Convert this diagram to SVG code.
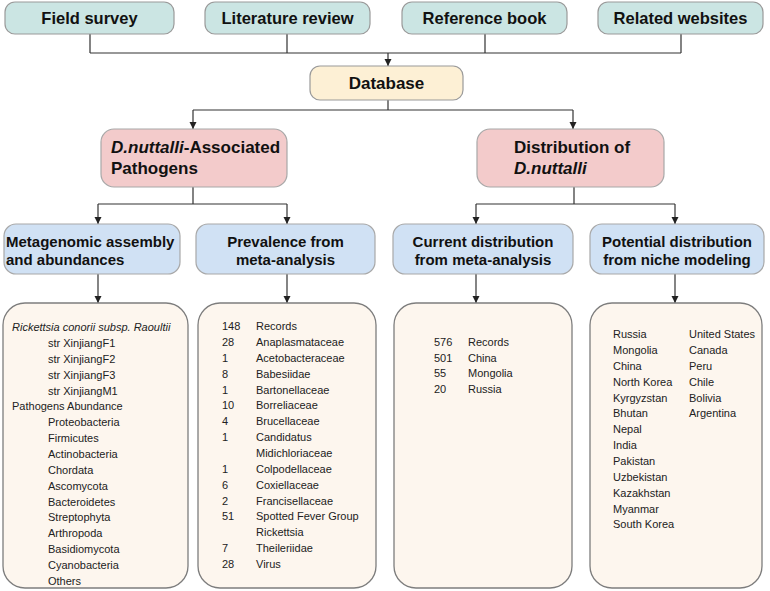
<svg xmlns="http://www.w3.org/2000/svg" width="770" height="591" viewBox="0 0 770 591">
<defs>
<marker id="arr" viewBox="0 0 10 10" refX="10" refY="5" markerWidth="7" markerHeight="8" markerUnits="userSpaceOnUse" orient="auto">
<path d="M0,0 L10,5 L0,10 Z" fill="#222"/>
</marker>
</defs>
<style>
.src{fill:#cbe5e3;stroke:#9a9a9a;stroke-width:1.2}
.db{fill:#fdf0d5;stroke:#9a9a9a;stroke-width:1.2}
.pk{fill:#f3cbcb;stroke:#a8a8a8;stroke-width:1.2}
.bl{fill:#d0e1f4;stroke:#a8a8a8;stroke-width:1.2}
.bx{fill:#fdf6ee;stroke:#7d7d7d;stroke-width:1.3}
.h{font-family:"Liberation Sans",Arial,sans-serif;font-weight:bold;fill:#111}
.t{font-family:"Liberation Sans",Arial,sans-serif;font-size:11px;fill:#222}
.ln{fill:none;stroke:#333;stroke-width:1.2}
</style>
<g id="connectors">
<path class="ln" d="M90,34 V53 M287,34 V53 M485,34 V53 M681,34 V53 M90,53 H681"/>
<path class="ln" d="M388,53 V66" marker-end="url(#arr)"/>
<path class="ln" d="M388,100 V110 M193,110 H573"/>
<path class="ln" d="M193,110 V129" marker-end="url(#arr)"/>
<path class="ln" d="M573,110 V129" marker-end="url(#arr)"/>
<path class="ln" d="M193,187 V204 M98,204 H287"/>
<path class="ln" d="M98,204 V224" marker-end="url(#arr)"/>
<path class="ln" d="M287,204 V224" marker-end="url(#arr)"/>
<path class="ln" d="M574,187 V204 M476,204 H675"/>
<path class="ln" d="M476,204 V224" marker-end="url(#arr)"/>
<path class="ln" d="M675,204 V224" marker-end="url(#arr)"/>
<path class="ln" d="M98,274 V303" marker-end="url(#arr)"/>
<path class="ln" d="M287,274 V303" marker-end="url(#arr)"/>
<path class="ln" d="M476,274 V303" marker-end="url(#arr)"/>
<path class="ln" d="M675,274 V303" marker-end="url(#arr)"/>
</g>
<g id="field-survey">
<rect class="src" x="5" y="2" width="169" height="32" rx="10"/>
<text class="h" x="89.5" y="24" font-size="16.5" text-anchor="middle">Field survey</text>
</g>
<g id="literature-review">
<rect class="src" x="205" y="2" width="165" height="32" rx="10"/>
<text class="h" x="287.5" y="24" font-size="16.5" text-anchor="middle">Literature review</text>
</g>
<g id="reference-book">
<rect class="src" x="402" y="2" width="165" height="32" rx="10"/>
<text class="h" x="484.5" y="24" font-size="16.5" text-anchor="middle">Reference book</text>
</g>
<g id="related-websites">
<rect class="src" x="598" y="2" width="165" height="32" rx="10"/>
<text class="h" x="680.5" y="24" font-size="16.5" text-anchor="middle">Related websites</text>
</g>
<g id="database">
<rect class="db" x="310" y="66" width="153" height="34" rx="10"/>
<text class="h" x="386.5" y="89" font-size="17" text-anchor="middle">Database</text>
</g>
<g id="pathogens">
<rect class="pk" x="101" y="129" width="186" height="58" rx="13"/>
<text class="h" x="111" y="153" font-size="17"><tspan font-style="italic">D.nuttalli</tspan>-Associated</text>
<text class="h" x="111" y="174" font-size="17">Pathogens</text>
</g>
<g id="distribution">
<rect class="pk" x="477" y="129" width="187" height="58" rx="13"/>
<text class="h" x="514" y="153" font-size="17">Distribution of</text>
<text class="h" x="514" y="174" font-size="17" font-style="italic">D.nuttalli</text>
</g>
<g id="metagenomic">
<rect class="bl" x="4" y="224" width="176" height="50" rx="12"/>
<text class="h" x="6" y="247" font-size="15">Metagenomic assembly</text>
<text class="h" x="6" y="265" font-size="15">and abundances</text>
</g>
<g id="prevalence">
<rect class="bl" x="196" y="224" width="179" height="50" rx="12"/>
<text class="h" x="285.5" y="247" font-size="15" text-anchor="middle">Prevalence from</text>
<text class="h" x="285.5" y="265" font-size="15" text-anchor="middle">meta-analysis</text>
</g>
<g id="current">
<rect class="bl" x="393" y="224" width="180" height="50" rx="12"/>
<text class="h" x="483" y="247" font-size="15" text-anchor="middle">Current distribution</text>
<text class="h" x="483" y="265" font-size="15" text-anchor="middle">from meta-analysis</text>
</g>
<g id="potential">
<rect class="bl" x="590" y="224" width="174" height="50" rx="12"/>
<text class="h" x="677" y="247" font-size="15" text-anchor="middle">Potential distribution</text>
<text class="h" x="677" y="265" font-size="15" text-anchor="middle">from niche modeling</text>
</g>
<g id="metagenomic-list">
<rect class="bx" x="3" y="303" width="185" height="285" rx="22"/>
<text class="t" x="12" y="331" font-style="italic">Rickettsia conorii subsp. Raoultii</text>
<text class="t"><tspan x="48" y="346.9">str XinjiangF1</tspan><tspan x="48" y="362.7">str XinjiangF2</tspan><tspan x="48" y="378.6">str XinjiangF3</tspan><tspan x="48" y="394.5">str XinjiangM1</tspan><tspan x="12" y="410.4">Pathogens Abundance</tspan><tspan x="48" y="426.2">Proteobacteria</tspan><tspan x="48" y="442.1">Firmicutes</tspan><tspan x="48" y="458">Actinobacteria</tspan><tspan x="48" y="473.8">Chordata</tspan><tspan x="48" y="489.7">Ascomycota</tspan><tspan x="48" y="505.6">Bacteroidetes</tspan><tspan x="48" y="521.4">Streptophyta</tspan><tspan x="48" y="537.3">Arthropoda</tspan><tspan x="48" y="553.2">Basidiomycota</tspan><tspan x="48" y="569">Cyanobacteria</tspan><tspan x="48" y="584.9">Others</tspan></text>
</g>
<g id="prevalence-list">
<rect class="bx" x="198" y="303" width="178" height="285" rx="22"/>
<text class="t"><tspan x="222" y="330">148</tspan><tspan x="222" y="345.9">28</tspan><tspan x="222" y="361.7">1</tspan><tspan x="222" y="377.6">8</tspan><tspan x="222" y="393.5">1</tspan><tspan x="222" y="409.4">10</tspan><tspan x="222" y="425.2">4</tspan><tspan x="222" y="441.1">1</tspan><tspan x="222" y="472.8">1</tspan><tspan x="222" y="488.7">6</tspan><tspan x="222" y="504.6">2</tspan><tspan x="222" y="520.4">51</tspan><tspan x="222" y="552.2">7</tspan><tspan x="222" y="568">28</tspan></text>
<text class="t"><tspan x="256" y="330">Records</tspan><tspan x="256" y="345.9">Anaplasmataceae</tspan><tspan x="256" y="361.7">Acetobacteraceae</tspan><tspan x="256" y="377.6">Babesiidae</tspan><tspan x="256" y="393.5">Bartonellaceae</tspan><tspan x="256" y="409.4">Borreliaceae</tspan><tspan x="256" y="425.2">Brucellaceae</tspan><tspan x="256" y="441.1">Candidatus</tspan><tspan x="256" y="457">Midichloriaceae</tspan><tspan x="256" y="472.8">Colpodellaceae</tspan><tspan x="256" y="488.7">Coxiellaceae</tspan><tspan x="256" y="504.6">Francisellaceae</tspan><tspan x="256" y="520.4">Spotted Fever Group</tspan><tspan x="256" y="536.3">Rickettsia</tspan><tspan x="256" y="552.2">Theileriidae</tspan><tspan x="256" y="568">Virus</tspan></text>
</g>
<g id="current-list">
<rect class="bx" x="394" y="303" width="178" height="285" rx="22"/>
<text class="t"><tspan x="434" y="346">576</tspan><tspan x="434" y="362">501</tspan><tspan x="434" y="377">55</tspan><tspan x="434" y="393">20</tspan></text>
<text class="t"><tspan x="468" y="346">Records</tspan><tspan x="468" y="362">China</tspan><tspan x="468" y="377">Mongolia</tspan><tspan x="468" y="393">Russia</tspan></text>
</g>
<g id="potential-list">
<rect class="bx" x="590" y="303" width="172" height="285" rx="22"/>
<text class="t"><tspan x="613" y="338">Russia</tspan><tspan x="613" y="353.9">Mongolia</tspan><tspan x="613" y="369.7">China</tspan><tspan x="613" y="385.6">North Korea</tspan><tspan x="613" y="401.5">Kyrgyzstan</tspan><tspan x="613" y="417.4">Bhutan</tspan><tspan x="613" y="433.2">Nepal</tspan><tspan x="613" y="449.1">India</tspan><tspan x="613" y="465">Pakistan</tspan><tspan x="613" y="480.8">Uzbekistan</tspan><tspan x="613" y="496.7">Kazakhstan</tspan><tspan x="613" y="512.6">Myanmar</tspan><tspan x="613" y="528.4">South Korea</tspan></text>
<text class="t"><tspan x="689" y="338">United States</tspan><tspan x="689" y="353.9">Canada</tspan><tspan x="689" y="369.7">Peru</tspan><tspan x="689" y="385.6">Chile</tspan><tspan x="689" y="401.5">Bolivia</tspan><tspan x="689" y="417.4">Argentina</tspan></text>
</g>
</svg>
